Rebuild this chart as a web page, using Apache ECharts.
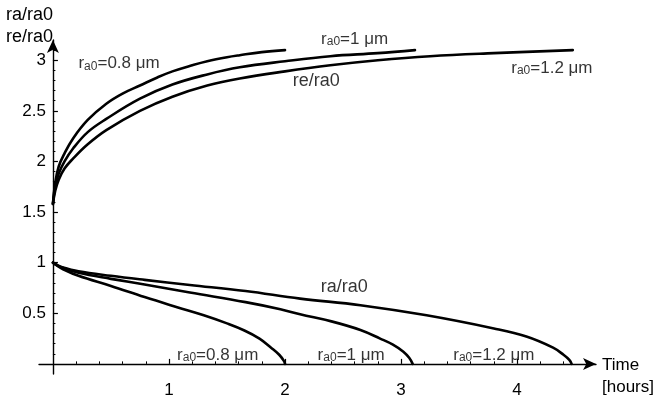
<!DOCTYPE html>
<html>
<head>
<meta charset="utf-8">
<script src="https://cdn.jsdelivr.net/npm/echarts@6/dist/echarts.min.js"></script>
<style>
  html, body { margin: 0; padding: 0; background: #fff; }
  #chart { width: 655px; height: 399px; }
</style>
</head>
<body>
<div id="chart"></div>
<script>
// Time in hours, radius ratios for three initial radii (0.8, 1, 1.2 µm)
// re/ra0 : growing outer radius
const re08 = [[0,1.58],[0.02,1.79],[0.05,1.95],[0.1,2.08],[0.175,2.23],[0.3,2.41],[0.46,2.57],[0.6,2.67],[0.75,2.75],[0.9,2.83],[1.03,2.89],[1.2,2.95],[1.33,2.99],[1.5,3.03],[1.61,3.05],[1.8,3.08],[2.0,3.10]];
const re10 = [[0,1.58],[0.02,1.75],[0.05,1.88],[0.1,2.0],[0.175,2.13],[0.3,2.29],[0.46,2.42],[0.75,2.62],[1.03,2.76],[1.33,2.86],[1.61,2.93],[2.0,2.99],[2.39,3.04],[2.8,3.07],[3.12,3.10]];
const re12 = [[0,1.58],[0.02,1.71],[0.05,1.82],[0.1,1.93],[0.175,2.03],[0.3,2.17],[0.46,2.31],[0.75,2.50],[1.03,2.64],[1.33,2.75],[1.61,2.82],[2.0,2.89],[2.39,2.95],[2.8,3.0],[3.25,3.04],[3.8,3.07],[4.48,3.10]];
// ra/ra0 : shrinking inner radius
const ra08 = [[0,1],[0.03,0.975],[0.08,0.94],[0.22,0.87],[0.5,0.77],[0.79,0.66],[1.07,0.56],[1.3,0.48],[1.5,0.40],[1.65,0.33],[1.78,0.25],[1.88,0.16],[1.95,0.09],[1.99,0.03],[2.0,0]];
const ra10 = [[0,1],[0.03,0.98],[0.08,0.95],[0.22,0.90],[0.5,0.84],[0.79,0.785],[1.18,0.705],[1.66,0.61],[1.96,0.54],[2.13,0.49],[2.4,0.42],[2.65,0.335],[2.82,0.25],[2.93,0.19],[3.02,0.12],[3.07,0.06],[3.1,0]];
const ra12 = [[0,1],[0.03,0.98],[0.08,0.955],[0.22,0.915],[0.5,0.87],[0.79,0.83],[1.18,0.78],[1.66,0.72],[2.13,0.645],[2.65,0.58],[3.22,0.48],[3.8,0.35],[4.08,0.27],[4.31,0.16],[4.4,0.09],[4.45,0.04],[4.47,0]];

// Tick values
const xMajor = [1, 2, 3, 4];
const xMinor = [0.2,0.4,0.6,0.8,1.2,1.4,1.6,1.8,2.2,2.4,2.6,2.8,3.2,3.4,3.6,3.8,4.2,4.4,4.6];
const yMajor = [0.5, 1, 1.5, 2, 2.5, 3];
const yMinor = [0.1,0.2,0.3,0.4,0.6,0.7,0.8,0.9,1.1,1.2,1.3,1.4,1.6,1.7,1.8,1.9,2.1,2.2,2.3,2.4,2.6,2.7,2.8,2.9,3.1];

// Curve annotations: [time, ratio, text]
const curveNotes = [
  [0.57, 2.98, '0.8'],
  [2.60, 3.22, '1'],
  [4.30, 2.94, '1.2'],
  [1.42, 0.10, '0.8'],
  [2.57, 0.10, '1'],
  [3.80, 0.10, '1.2']
];
const ratioNotes = [
  [2.27, 2.79, 're/ra0'],
  [2.51, 0.76, 'ra/ra0']
];

const INK = '#000';
const FONT = '"Liberation Sans", Arial, sans-serif';
const X_MIN = -0.12, X_MAX = 4.68, Y_MIN = -0.1, Y_MAX = 3.2;

function axisPair(dim) {
  const major = dim === 'x' ? xMajor : yMajor;
  const minor = dim === 'x' ? xMinor : yMinor;
  const min = dim === 'x' ? X_MIN : Y_MIN;
  const max = dim === 'x' ? X_MAX : Y_MAX;
  const pos = dim === 'x' ? 'bottom' : 'left';
  return [
    {
      type: 'value', min, max, position: pos,
      axisLine: {
        show: true, onZero: true, onZeroAxisIndex: 0,
        symbol: ['none', 'arrow'], symbolSize: [9, 13],
        lineStyle: { color: INK, width: 1.4 }
      },
      axisTick: { show: true, inside: true, length: 5, customValues: major, lineStyle: { color: INK, width: 1.2 } },
      axisLabel: { show: true, customValues: major, color: INK, fontSize: 17, fontFamily: FONT, margin: dim === 'x' ? 8 : -7 },
      splitLine: { show: false }
    },
    {
      type: 'value', min, max, position: pos,
      axisLine: { show: false, onZero: true, onZeroAxisIndex: 0 },
      axisTick: { show: true, inside: true, length: 2.5, customValues: minor, lineStyle: { color: INK, width: 1 } },
      axisLabel: { show: false },
      splitLine: { show: false }
    }
  ];
}

function curve(data) {
  return {
    type: 'line', data, xAxisIndex: 0, yAxisIndex: 0,
    showSymbol: false, smooth: 0.4, clip: false,
    lineStyle: { color: INK, width: 2.6, cap: 'round', join: 'round' }, silent: true
  };
}

const chart = echarts.init(document.getElementById('chart'), null, { renderer: 'canvas' });
chart.setOption({
  animation: false,
  backgroundColor: '#fff',
  grid: { left: 39, right: 59, top: 40, bottom: 16, containLabel: false },
  xAxis: axisPair('x'),
  yAxis: axisPair('y'),
  series: [
    curve(re08), curve(re10), curve(re12),
    curve(ra08), curve(ra10), curve(ra12),
    {
      type: 'scatter', data: curveNotes, symbolSize: 0, clip: false, silent: true,
      label: {
        show: true, position: 'inside',
        formatter: p => '{r|r}{s|a0}{r|=' + p.data[2] + ' μm}',
        rich: {
          r: { fontSize: 17, fontFamily: FONT, color: INK, verticalAlign: 'bottom', lineHeight: 20 },
          s: { fontSize: 12, fontFamily: FONT, color: INK, verticalAlign: 'bottom', lineHeight: 20 }
        }
      }
    },
    {
      type: 'scatter', data: ratioNotes, symbolSize: 0, clip: false, silent: true,
      label: {
        show: true, position: 'inside',
        formatter: p => p.data[2],
        fontSize: 18, fontFamily: FONT, color: INK
      }
    }
  ],
  graphic: [
    { type: 'text', left: 6, top: 4, style: { text: 'ra/ra0\nre/ra0', font: '18px ' + FONT, fill: INK, lineHeight: 22 } },
    { type: 'text', left: 602, top: 354, style: { text: 'Time\n[hours]', font: '17px ' + FONT, fill: INK, lineHeight: 22 } }
  ]
});
</script>
</body>
</html>
